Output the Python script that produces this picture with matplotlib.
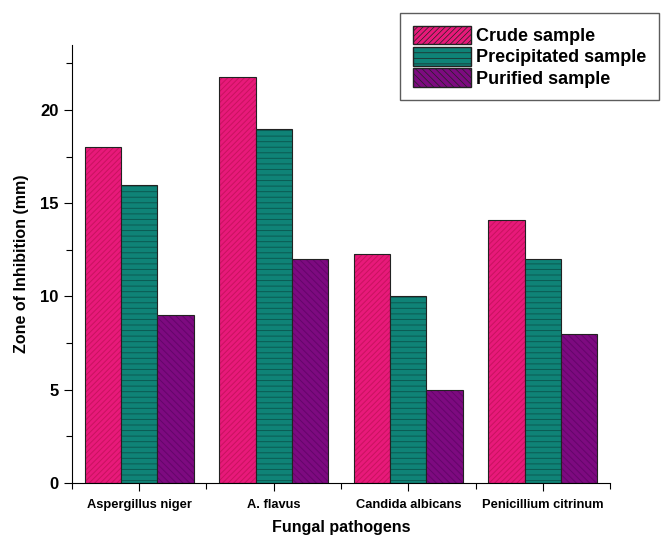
import numpy as np
import matplotlib as mpl
import matplotlib.pyplot as plt

mpl.rc('font', family=['Liberation Sans', 'DejaVu Sans'], weight='bold')
mpl.rc('axes', labelweight='bold')
mpl.rc('hatch', linewidth=0.7)

pathogens = ["Aspergillus niger", "A. flavus", "Candida albicans", "Penicillium citrinum"]
crude = [18.0, 21.8, 12.3, 14.1]
precipitated = [16.0, 19.0, 10.0, 12.0]
purified = [9.0, 12.0, 5.0, 8.0]

series = [
    ("Crude sample", crude, "#e8197a", "#c8135f", "//////"),
    ("Precipitated sample", precipitated, "#0f8377", "#0b5a52", "---"),
    ("Purified sample", purified, "#7d0a80", "#64066a", "\\\\\\\\\\"),
]

fig = plt.figure(figsize=(6.66, 5.4), dpi=100)
ax = fig.add_axes([0.108, 0.106, 0.808, 0.811])

x = np.arange(1, len(pathogens) + 1)
w = 0.27
handles = []
for i, (name, vals, fc, hc, hatch) in enumerate(series):
    pos = x + (i - 1) * w
    ax.bar(pos, vals, w, color=fc, edgecolor="none")
    ax.bar(pos, vals, w, color="none", edgecolor=hc, hatch=hatch, linewidth=0)
    ax.bar(pos, vals, w, color="none", edgecolor="#222222", linewidth=0.8)
    handles.append(mpl.patches.Patch(facecolor=fc, edgecolor="#222222", hatch=hatch, label=name))

ax.set_xlim(0.5, 4.5)
ax.set_ylim(0, 23.5)
ax.set_xticks(x)
ax.set_xticklabels(pathogens, fontsize=9.3)
ax.set_xticks([0.5, 1.5, 2.5, 3.5, 4.5], minor=True)
ax.set_yticks([0, 5, 10, 15, 20])
ax.set_yticks([2.5, 7.5, 12.5, 17.5, 22.5], minor=True)
ax.tick_params(axis='y', labelsize=12)
ax.tick_params(axis='x', pad=6)
ax.tick_params(which='major', length=6, width=0.8)
ax.tick_params(which='minor', length=4, width=0.8)
ax.spines['top'].set_visible(False)
ax.spines['right'].set_visible(False)
ax.set_xlabel("Fungal pathogens", fontsize=11.5, labelpad=6)
ax.set_ylabel("Zone of Inhibition (mm)", fontsize=11.5, labelpad=8)

with mpl.rc_context({'hatch.linewidth': 0.5}):
    leg = fig.legend(handles=handles, loc="upper right", bbox_to_anchor=(1.003, 0.992),
                     fontsize=13, frameon=True, fancybox=False, edgecolor="#333333",
                     handlelength=3.2, handleheight=1.2, handletextpad=0.3,
                     labelspacing=0.1, borderpad=0.7)
leg.get_frame().set_linewidth(1.0)

fig.savefig("out.png", dpi=100)
